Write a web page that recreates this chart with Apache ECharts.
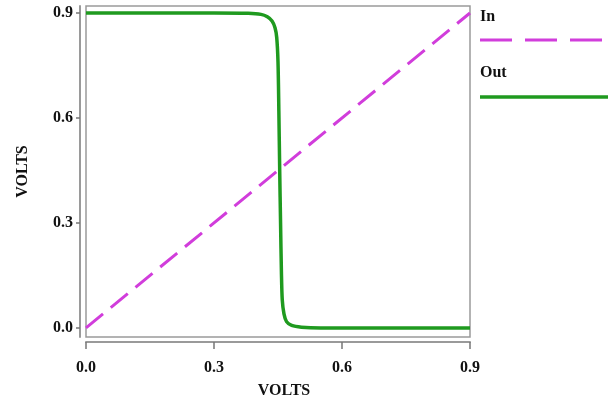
<!DOCTYPE html>
<html>
<head>
<meta charset="utf-8">
<script src="https://cdn.jsdelivr.net/npm/echarts@6/dist/echarts.min.js"></script>
<style>html,body{margin:0;padding:0;background:#fff}#c{width:608px;height:400px}</style>
</head>
<body>
<div id="c"></div>
<script>
const xTicks = [0, 0.3, 0.6, 0.9];
const yTicks = [0, 0.3, 0.6, 0.9];
const inData = [[0, 0], [0.9, 0.9]];
const outData = [
  [0, 0.9], [0.3, 0.9], [0.38, 0.899], [0.41, 0.896], [0.425, 0.889], [0.436, 0.877],
  [0.443, 0.858], [0.447, 0.83], [0.45, 0.76], [0.452, 0.62], [0.454, 0.45],
  [0.456, 0.3], [0.458, 0.16], [0.46, 0.08], [0.464, 0.04], [0.47, 0.018],
  [0.482, 0.007], [0.505, 0.002], [0.55, 0], [0.9, 0]
];
const seriesNames = ['In', 'Out'];
const colors = ['#d13ddb', '#1f9a1f'];

const font = 'Liberation Serif';
const chart = echarts.init(document.getElementById('c'));
chart.setOption({
  animation: false,
  grid: { left: 86, right: 138, top: 6, bottom: 63, show: true, borderColor: '#9a9a9a', borderWidth: 1.5, backgroundColor: '#fff', outerBoundsMode: 'none', containLabel: false },
  xAxis: {
    type: 'value', min: 0, max: 0.9, interval: 0.3, offset: 5,
    name: 'VOLTS', nameLocation: 'middle', nameGap: 41,
    nameTextStyle: { fontFamily: font, fontWeight: 'bold', fontSize: 16, color: '#111', padding: [0, 0, 0, 12] },
    axisLine: { show: true, onZero: false, lineStyle: { color: '#9a9a9a', width: 2 } },
    axisTick: { show: true, length: 7, lineStyle: { color: '#777', width: 1.5 } },
    axisLabel: { fontFamily: font, fontWeight: 'bold', fontSize: 16, color: '#111', margin: 18, formatter: v => v.toFixed(1) },
    splitLine: { show: false }
  },
  yAxis: {
    type: 'value', min: -0.026, max: 0.92, offset: 6,
    name: 'VOLTS', nameLocation: 'middle', nameGap: 49,
    nameTextStyle: { fontFamily: font, fontWeight: 'bold', fontSize: 16, color: '#111' },
    axisLine: { show: true, onZero: false, lineStyle: { color: '#9a9a9a', width: 2 } },
    axisTick: { show: true, length: 4, customValues: yTicks, lineStyle: { color: '#777', width: 1.5 } },
    axisLabel: { fontFamily: font, fontWeight: 'bold', fontSize: 16, color: '#111', margin: 7, customValues: yTicks, formatter: v => v.toFixed(1) },
    splitLine: { show: false }
  },
  series: [
    { name: seriesNames[0], type: 'line', data: inData, showSymbol: false, z: 2,
      lineStyle: { color: colors[0], width: 3, type: [22, 10] } },
    { name: seriesNames[1], type: 'line', data: outData, showSymbol: false, smooth: 0.3, z: 3,
      lineStyle: { color: colors[1], width: 3.5 } }
  ],
  graphic: [
    { type: 'text', left: 480, top: 9, style: { text: seriesNames[0], font: 'bold 16px "Liberation Serif"', fill: '#111' } },
    { type: 'line', shape: { x1: 480, y1: 40, x2: 608, y2: 40 }, style: { stroke: colors[0], lineWidth: 3, lineDash: [32, 13] } },
    { type: 'text', left: 480, top: 65, style: { text: seriesNames[1], font: 'bold 16px "Liberation Serif"', fill: '#111' } },
    { type: 'line', shape: { x1: 480, y1: 97, x2: 608, y2: 97 }, style: { stroke: colors[1], lineWidth: 3.5 } }
  ]
});
</script>
</body>
</html>
